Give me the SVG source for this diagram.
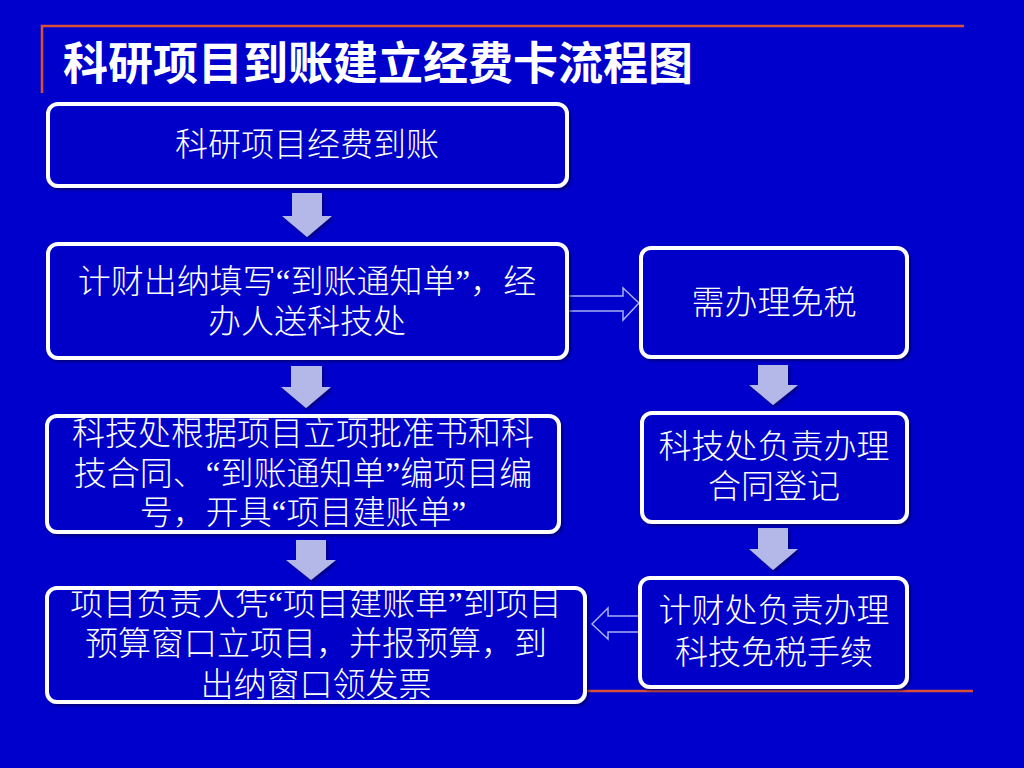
<svg xmlns="http://www.w3.org/2000/svg" width="1024" height="768" viewBox="0 0 1024 768">
<style>
.box{fill:#0000C8;stroke:#FFFFFF;stroke-width:4}
.t{font-family:"Liberation Serif","Noto Sans CJK SC",serif;font-size:33px;font-weight:300;fill:#FFFFFF;text-anchor:middle}
.title{font-family:"Noto Sans CJK SC",sans-serif;font-size:45px;font-weight:bold;fill:#FFFFFF}
.dn{fill:#B4B8E8}
.ol{fill:none;stroke:#A8B0F0;stroke-width:1.5}
.red{stroke:#D8503A;stroke-width:2.5;fill:none}
</style>
<defs>
<filter id="sh" x="-10%" y="-10%" width="130%" height="130%">
<feDropShadow dx="2" dy="2" stdDeviation="1.5" flood-color="#000044" flood-opacity="0.6"/>
</filter>
</defs>
<rect width="1024" height="768" fill="#0000CC"/>
<g id="decor">
<path class="red" d="M42,93 V26 H964"/>
<path class="red" d="M586,691 H973"/>
</g>
<text class="title" x="63" y="80">科研项目到账建立经费卡流程图</text>
<g id="connectors">
<polygon class="dn" filter="url(#sh)" points="292,193 322,193 322,216 332,216 307,237 282,216 292,216"/>
<polygon class="dn" filter="url(#sh)" points="291,366 322,366 322,387 331,387 306,408 281,387 291,387"/>
<polygon class="dn" filter="url(#sh)" points="296,540 326,540 326,560 336,560 311,580 286,560 296,560"/>
<polygon class="dn" filter="url(#sh)" points="758,365 788,365 788,385 798,385 773,405 749,385 758,385"/>
<polygon class="dn" filter="url(#sh)" points="758,528 788,528 788,549 798,549 773,570 749,549 758,549"/>
<polygon class="ol" points="566,296 623,296 623,288 639,303 623,320 623,311 566,311"/>
<polygon class="ol" points="641,616 608,616 608,608 592,624 608,639 608,632 641,632"/>
</g>
<g id="n1">
<rect class="box" x="48" y="104" width="519" height="82" rx="10" filter="url(#sh)"/>
<text class="t" x="307" y="156">科研项目经费到账</text>
</g>
<g id="n2">
<rect class="box" x="48" y="244" width="519" height="114" rx="10" filter="url(#sh)"/>
<text class="t" x="307" y="293">计财出纳填写“到账通知单”，经</text>
<text class="t" x="307" y="333">办人送科技处</text>
</g>
<g id="n3">
<rect class="box" x="47" y="416" width="512" height="116" rx="10" filter="url(#sh)"/>
<text class="t" x="303" y="445">科技处根据项目立项批准书和科</text>
<text class="t" x="303" y="485">技合同、“到账通知单”编项目编</text>
<text class="t" x="303" y="524">号，开具“项目建账单”</text>
</g>
<g id="n4">
<rect class="box" x="47" y="588" width="538" height="114" rx="10" filter="url(#sh)"/>
<text class="t" x="316" y="615">项目负责人凭“项目建账单”到项目</text>
<text class="t" x="316" y="655">预算窗口立项目，并报预算，到</text>
<text class="t" x="316" y="696">出纳窗口领发票</text>
</g>
<g id="n5">
<rect class="box" x="641" y="248" width="266" height="109" rx="10" filter="url(#sh)"/>
<text class="t" x="774" y="314">需办理免税</text>
</g>
<g id="n6">
<rect class="box" x="642" y="413" width="265" height="109" rx="10" filter="url(#sh)"/>
<text class="t" x="774" y="458">科技处负责办理</text>
<text class="t" x="774" y="498">合同登记</text>
</g>
<g id="n7">
<rect class="box" x="640" y="578" width="267" height="109" rx="10" filter="url(#sh)"/>
<text class="t" x="774" y="622">计财处负责办理</text>
<text class="t" x="774" y="664">科技免税手续</text>
</g>
</svg>
